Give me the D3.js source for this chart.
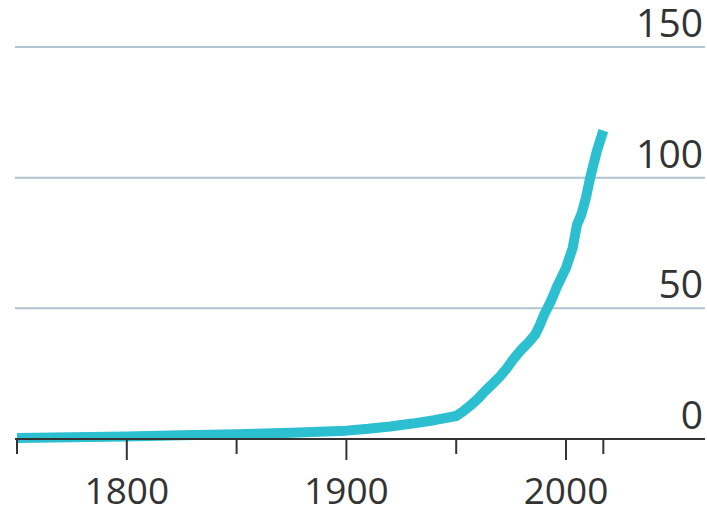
<!DOCTYPE html>
<html><head><meta charset="utf-8">
<script src="https://cdn.jsdelivr.net/npm/d3@7"></script>
<style>
html,body{margin:0;padding:0;background:#fff;}
svg{display:block;}
text{font-family:"Open Sans",sans-serif;font-weight:400;fill:#333;}
</style></head>
<body>
<script>
const years  = [1750,1775,1800,1825,1850,1875,1900,1910,1920,1930,1940,1950,1953,1957,1960,1963,1967,1970,1973,1976,1980,1983,1986,1988,1990,1993,1996,2000,2003,2005,2007,2009,2011,2014,2017];
const values = [0.4,0.7,1.0,1.4,1.8,2.4,3.2,3.9,4.8,5.9,7.2,8.8,10.5,13.2,15.5,18.2,21.5,24,27,30.5,34.5,37,40,43.5,47.5,52.5,58.5,65.5,73,82,86,92,100,110,118];
const yTicks = [0,50,100,150];
const xTicks = [1750,1800,1850,1900,1950,2000,2017];
const xLabels = [1800,1900,2000];

const W = 707, H = 513;
const svg = d3.select("body").append("svg").attr("width", W).attr("height", H);

const x = d3.scaleLinear().domain([1750, 2000]).range([17, 566]);
const y = d3.scaleLinear().domain([0, 150]).range([439, 47]);
const x0 = 15, x1 = 705;

// gridlines
svg.append("g").selectAll("line").data(yTicks.filter(d => d > 0)).join("line")
  .attr("x1", x0).attr("x2", x1)
  .attr("y1", d => y(d)).attr("y2", d => y(d))
  .attr("stroke", "#b3c3cf").attr("stroke-width", 2);

// y labels
svg.append("g").selectAll("text").data(yTicks).join("text")
  .attr("x", 703).attr("y", d => y(d) - 10)
  .attr("text-anchor", "end")
  .attr("font-size", 39)
  .text(d => d);

// line
const line = d3.line().x((d, i) => x(years[i])).y(d => y(d));
svg.append("path").datum(values)
  .attr("d", line)
  .attr("fill", "none")
  .attr("stroke", "#2bbfd0")
  .attr("stroke-width", 10)
  .attr("stroke-linejoin", "round")
  .attr("stroke-linecap", "butt");

// x axis line
svg.append("line").attr("x1", x0).attr("x2", x1)
  .attr("y1", y(0)).attr("y2", y(0))
  .attr("stroke", "#333").attr("stroke-width", 2);

// ticks
svg.append("g").selectAll("line").data(xTicks).join("line")
  .attr("x1", d => x(d)).attr("x2", d => x(d))
  .attr("y1", y(0)).attr("y2", d => xLabels.includes(d) ? y(0) + 21 : y(0) + 15)
  .attr("stroke", "#333").attr("stroke-width", 2);

// x labels
svg.append("g").selectAll("text").data(xLabels).join("text")
  .attr("x", d => x(d)).attr("y", 504)
  .attr("text-anchor", "middle")
  .attr("font-size", 37)
  .text(d => d);
</script>
</body></html>
